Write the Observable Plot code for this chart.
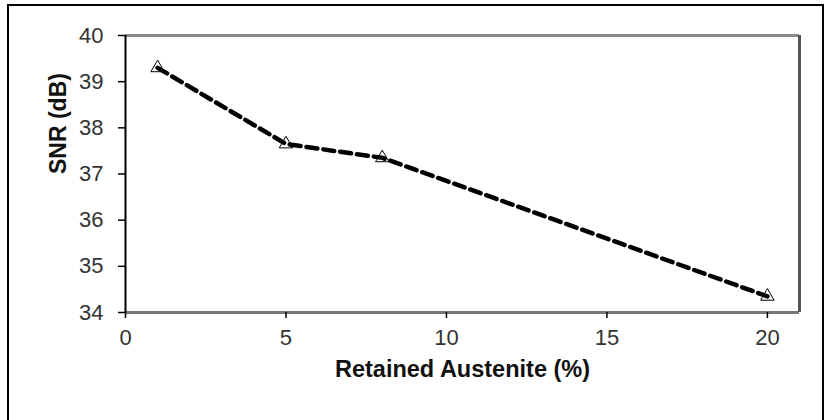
<!DOCTYPE html>
<html><head><meta charset="utf-8">
<script src="https://cdn.jsdelivr.net/npm/d3@7"></script>
<script src="https://cdn.jsdelivr.net/npm/@observablehq/plot@0.6"></script>
<style>
body{margin:0;background:#fff;}
#wrap{position:relative;width:830px;height:420px;overflow:hidden;}
#chart{position:absolute;left:0;top:0;}
#border{position:absolute;left:7px;top:4px;width:817px;height:440px;border:2px solid #000;box-sizing:border-box;pointer-events:none;}
</style></head><body>
<div id="wrap"><div id="chart"></div><div id="border"></div></div>
<script>
const austenite = [1, 5, 8, 20];
const snr = [39.3, 37.65, 37.35, 34.35];
const xTicks = [0, 5, 10, 15, 20];
const yTicks = [34, 35, 36, 37, 38, 39, 40];
const xLabel = "Retained Austenite (%)";
const yLabel = "SNR (dB)";

const data = austenite.map((x, i) => ({x, y: snr[i]}));

const plot = Plot.plot({
  width: 830, height: 420,
  marginLeft: 125, marginRight: 31, marginTop: 35, marginBottom: 108,
  style: {fontFamily: "'Liberation Sans', Arial, sans-serif", fontSize: "21px", color: "#222", background: "transparent"},
  x: {domain: [0, 21], label: null},
  y: {domain: [34, 40], label: null},
  marks: [
    Plot.ruleY([40], {stroke: "#8a8a8a", strokeWidth: 3}),
    Plot.ruleY([34], {stroke: "#777", strokeWidth: 3}),
    Plot.ruleX([21], {stroke: "#555", strokeWidth: 3}),
    Plot.axisX({ticks: xTicks, tickFormat: "d", tickSize: 6, tickPadding: 11, fontSize: 22, fill: "#333", stroke: "#000", strokeWidth: 1.5, label: null}),
    Plot.axisY({ticks: yTicks, tickFormat: "d", tickSize: 7, tickPadding: 15, fontSize: 22, fill: "#333", stroke: "#000", strokeWidth: 1.5, label: null}),
    Plot.ruleX([0], {stroke: "#000", strokeWidth: 2}),
    Plot.dot(data, {x: "x", y: "y", symbol: "triangle", r: 5, fill: "white", stroke: "#000", strokeWidth: 1}),
    Plot.line(data, {x: "x", y: "y", stroke: "#000", strokeWidth: 4.5, strokeDasharray: "11,6"}),
    Plot.text([xLabel], {frameAnchor: "bottom", dy: 64, fontWeight: "bold", fontSize: 23.5, fill: "#111"}),
    Plot.text([yLabel], {frameAnchor: "left", dx: -67, rotate: -90, fontWeight: "bold", fontSize: 23, fill: "#111"})
  ]
});
document.getElementById("chart").appendChild(plot);
</script>
</body></html>
